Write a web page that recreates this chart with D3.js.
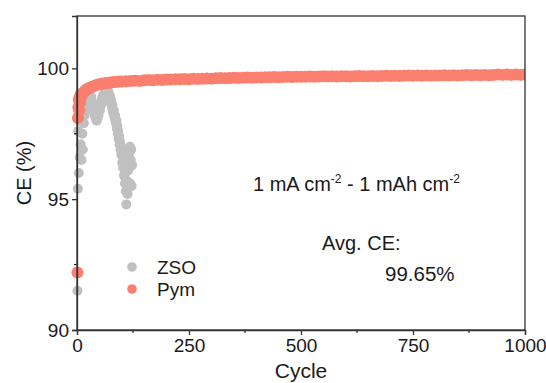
<!DOCTYPE html>
<html>
<head>
<meta charset="utf-8">
<script src="https://cdn.jsdelivr.net/npm/d3@7"></script>
<style>
  html, body { margin: 0; padding: 0; background: #fff; }
  svg { display: block; font-family: "Liberation Sans", Arial, sans-serif; }
</style>
</head>
<body>
<svg id="chart" width="546" height="383"></svg>
<script>
// Coulombic efficiency vs. cycle number for two electrolytes

// ZSO: cycle index and CE (%)
const zsoCycles = [
  1,2,3,4,5,6,7,8,9,10,11,12,13,14,15,16,17,18,19,20,
  21,22,23,24,25,26,27,28,29,30,31,32,33,34,35,36,37,38,39,40,
  41,42,43,44,45,46,47,48,49,50,51,52,53,54,55,56,57,58,59,60,
  61,62,63,64,65,66,67,68,69,70,71,72,73,74,75,76,77,78,79,80,
  81,82,83,84,85,86,87,88,89,90,91,92,93,94,95,96,97,98,99,100,
  101,102,103,104,105,106,107,108,109,110,111,112,113,114,115,116,117,118,119,120,
  121,122,123
];
const zsoCE = [
  91.5,95.4,97.6,96.0,98.0,96.6,98.3,97.1,98.4,96.5,98.5,97.5,96.9,98.5,97.9,98.6,98.2,98.7,98.4,98.6,
  98.8,98.5,98.7,98.9,98.6,98.8,98.7,98.9,98.6,98.8,98.7,98.9,98.6,98.7,98.5,98.6,98.4,98.3,98.5,98.2,
  98.3,98.1,98.2,98.0,98.2,98.1,98.3,98.2,98.4,98.5,98.4,98.6,98.7,98.6,98.8,98.7,98.9,98.8,99.0,98.9,
  99.0,98.8,99.1,98.9,99.0,99.1,98.9,99.1,99.0,99.1,98.9,99.0,98.8,98.9,98.7,98.8,98.6,98.5,98.6,98.4,
  98.3,98.4,98.2,98.1,98.2,98.0,97.9,98.0,97.7,97.8,97.5,97.6,97.3,97.4,97.1,97.2,96.9,97.0,96.7,96.9,
  96.4,96.8,96.2,96.6,95.9,96.3,95.6,96.0,95.3,94.8,95.7,96.4,95.2,96.1,95.5,96.7,96.2,97.0,95.6,96.5,
  96.9,95.5,96.3
];

// Pym: cycle index and CE (%)
const pymCycles = [
  1,2,3,4,5,6,7,8,9,10,12,14,16,18,20,23,26,30,34,38,42,46,50,55,60,65,70,75,80,85,90,95,100,
  110,120,130,140,150,160,170,180,190,200,
  210,220,230,240,250,260,270,280,290,300,
  310,320,330,340,350,360,370,380,390,400,
  410,420,430,440,450,460,470,480,490,500,
  510,520,530,540,550,560,570,580,590,600,
  610,620,630,640,650,660,670,680,690,700,
  710,720,730,740,750,760,770,780,790,800,
  810,820,830,840,850,860,870,880,890,900,
  910,920,930,940,950,960,970,980,990,1000
];
const pymCE = [
  92.2,98.1,98.5,98.8,98.4,98.9,98.7,99.0,98.9,99.0,99.02,99.07,99.10,99.14,99.17,99.21,99.24,99.27,99.30,99.32,99.35,99.37,99.39,99.41,99.42,99.44,99.45,99.46,99.47,99.48,99.49,99.50,99.50,
  99.51,99.52,99.53,99.52,99.54,99.55,99.54,99.56,99.55,99.57,
  99.57,99.58,99.58,99.59,99.58,99.60,99.59,99.60,99.61,99.60,
  99.62,99.63,99.62,99.63,99.64,99.63,99.64,99.65,99.64,99.65,
  99.65,99.66,99.66,99.67,99.66,99.67,99.68,99.67,99.68,99.68,
  99.68,99.69,99.68,99.69,99.70,99.69,99.70,99.69,99.70,99.70,
  99.69,99.70,99.71,99.70,99.70,99.71,99.70,99.71,99.72,99.71,
  99.72,99.71,99.72,99.73,99.72,99.73,99.72,99.73,99.72,99.73,
  99.73,99.74,99.73,99.74,99.73,99.74,99.75,99.74,99.75,99.74,
  99.75,99.74,99.75,99.76,99.75,99.76,99.75,99.76,99.75,99.76
];

const xTicks = [0, 250, 500, 750, 1000];
const xMinor = [125, 375, 625, 875];
const yTicks = [90, 95, 100];
const yMinor = [92.5, 97.5];

const seriesNames = ["ZSO", "Pym"];
const seriesColors = ["#c0c0c0", "#fa7f6f"];
const seriesRadius = [5, 6];

const svg = d3.select("#chart");
const margin = { left: 77, top: 16, right: 21, bottom: 53 };
const W = 546, H = 383;
const plotW = W - margin.left - margin.right;
const plotH = H - margin.top - margin.bottom;

const x = d3.scaleLinear().domain([0, 1000]).range([margin.left, margin.left + plotW]);
const y = d3.scaleLinear().domain([90, 102]).range([margin.top + plotH, margin.top]);

const axisColor = "#333";
const textColor = "#1a1a1a";

// clip so markers stop at the right-hand frame
svg.append("defs").append("clipPath").attr("id", "plotClip")
  .append("rect")
  .attr("x", margin.left - 10).attr("y", margin.top)
  .attr("width", plotW + 10).attr("height", plotH + 10);

const dots = svg.append("g").attr("clip-path", "url(#plotClip)");

[[zsoCycles, zsoCE], [pymCycles, pymCE]].forEach(([cyc, ce], s) => {
  dots.append("g").selectAll("circle")
    .data(cyc.map((c, i) => [c, ce[i]]))
    .join("circle")
    .attr("cx", d => x(d[0])).attr("cy", d => y(d[1])).attr("r", seriesRadius[s])
    .attr("fill", seriesColors[s]);
});

// frame
svg.append("rect")
  .attr("x", margin.left).attr("y", margin.top)
  .attr("width", plotW).attr("height", plotH)
  .attr("fill", "none").attr("stroke", axisColor).attr("stroke-width", 1.3);

// axes
const xAxis = d3.axisBottom(x).tickValues(xTicks).tickSize(5).tickPadding(4).tickFormat(d3.format("d"));
const gx = svg.append("g").attr("transform", `translate(0,${margin.top + plotH})`).call(xAxis);
const yAxis = d3.axisLeft(y).tickValues(yTicks).tickSize(5).tickPadding(3).tickFormat(d3.format("d"));
const gy = svg.append("g").attr("transform", `translate(${margin.left},0)`).call(yAxis);

[gx, gy].forEach(g => {
  g.select(".domain").attr("stroke", axisColor).attr("stroke-width", 1.3);
  g.selectAll(".tick line").attr("stroke", axisColor).attr("stroke-width", 1.3);
  g.selectAll(".tick text").attr("fill", textColor)
    .style("font-size", "19px").style("font-family", "Liberation Sans, Arial, sans-serif");
});

// minor ticks
svg.append("g").selectAll("line").data(xMinor).join("line")
  .attr("x1", d => x(d)).attr("x2", d => x(d))
  .attr("y1", margin.top + plotH).attr("y2", margin.top + plotH + 3)
  .attr("stroke", axisColor).attr("stroke-width", 1.3);
svg.append("g").selectAll("line").data(yMinor).join("line")
  .attr("y1", d => y(d)).attr("y2", d => y(d))
  .attr("x1", margin.left).attr("x2", margin.left - 3)
  .attr("stroke", axisColor).attr("stroke-width", 1.3);

// axis titles
svg.append("text")
  .attr("x", x(500)).attr("y", 378)
  .attr("text-anchor", "middle").attr("fill", textColor)
  .style("font-size", "21px").text("Cycle");
svg.append("text")
  .attr("transform", `translate(31,${y(96)}) rotate(-90)`)
  .attr("text-anchor", "middle").attr("fill", textColor)
  .style("font-size", "20px").text("CE (%)");

// legend
const legend = svg.append("g");
seriesNames.forEach((name, i) => {
  const ly = 267 + i * 22;
  legend.append("circle").attr("cx", 132).attr("cy", ly).attr("r", 4.8).attr("fill", seriesColors[i]);
  legend.append("text").attr("x", 157).attr("y", ly + 7)
    .attr("fill", textColor).style("font-size", "19px").text(name);
});

// annotations
const cond = svg.append("text").attr("x", 253).attr("y", 191)
  .attr("fill", textColor).style("font-size", "20px");
cond.append("tspan").text("1 mA cm");
cond.append("tspan").attr("dy", -8).style("font-size", "12px").text("-2");
cond.append("tspan").attr("dy", 8).text(" - 1 mAh cm");
cond.append("tspan").attr("dy", -8).style("font-size", "12px").text("-2");

svg.append("text").attr("x", 322).attr("y", 250)
  .attr("fill", textColor).style("font-size", "20px").text("Avg. CE:");
svg.append("text").attr("x", 385).attr("y", 281)
  .attr("fill", textColor).style("font-size", "20.5px").text("99.65%");
</script>
</body>
</html>
